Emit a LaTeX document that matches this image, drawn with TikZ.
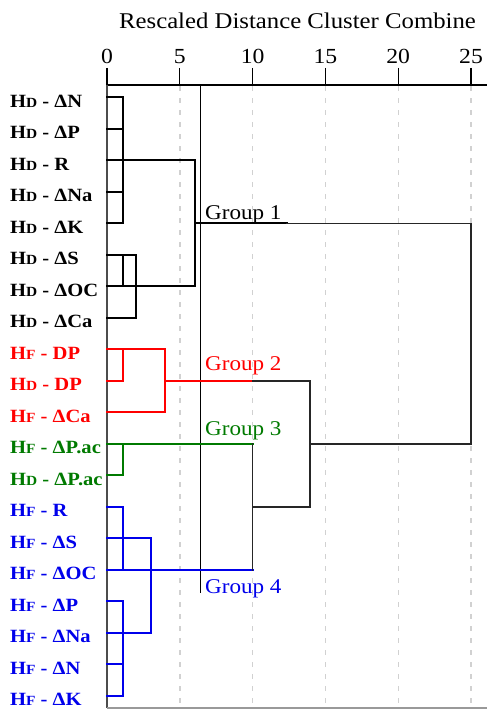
\documentclass[tikz,border=0pt]{standalone}
\usepackage{fontspec}
\setmainfont{Liberation Serif}[FakeStretch=1.1]
\definecolor{gred}{RGB}{255,0,0}
\definecolor{ggreen}{RGB}{0,122,0}
\definecolor{gblue}{RGB}{0,0,235}
\newcommand\labfont{\fontsize{18.7}{20}\selectfont\bfseries}
\newcommand\grpfont{\fontsize{21}{22}\selectfont}
\newcommand\tickfont{\fontsize{21.5}{22}\selectfont}
\newcommand\ttlfont{\fontsize{22.5}{24}\selectfont}
% smaller capital used for the D / F after H
\newcommand\subcap[1]{{\fontsize{14}{14}\selectfont #1}}
\newcommand\HD{H\subcap{D}}
\newcommand\HF{H\subcap{F}}
\begin{document}
\begin{tikzpicture}[x=1pt,y=-1pt,
  dend/.style={line width=2.2pt,line cap=rect},
  joinline/.style={line width=1.5pt,color=black!85,line cap=rect},
  gridline/.style={line width=1.4pt,color=black!18,dash pattern=on 5pt off 7pt},
  lab/.style={anchor=base west,inner sep=0pt,font=\labfont},
  grp/.style={anchor=base west,inner sep=0pt,font=\grpfont},
  ticklab/.style={anchor=base,inner sep=0pt,font=\tickfont}]
\useasboundingbox (0,0) rectangle (487,709);

% x positions of the merge levels
\coordinate (x0) at (107,0);
\coordinate (xa) at (122.7,0);
\coordinate (xb) at (135.7,0);
\coordinate (xf) at (151,0);
\coordinate (xd) at (165,0);
\coordinate (xc) at (195,0);
\coordinate (xt) at (287,0);
\coordinate (xg) at (252.7,0);
\coordinate (xr) at (310,0);
\coordinate (xe) at (471,0);
% one row per case
\foreach \i in {0,...,19} \coordinate (r\i) at (107,{97.3+31.5*\i});

% title and scale
\node[anchor=base,inner sep=0pt,font=\ttlfont] (title) at (297.5,28.3) {Rescaled Distance Cluster Combine};
\foreach \u in {5,10,...,25}
  \draw[gridline] ({107+14.56*\u},86) -- ({107+14.56*\u},707);
\foreach \u in {0,5,...,25}{
  \draw[line width=1.3pt] ({107+14.56*\u},68) -- ({107+14.56*\u},85);
  \node[ticklab] (t\u) at ({107+14.56*\u},63.3) {\u};
}
\draw[line width=1.3pt] (107,85) -- (487,85);
\draw[line width=1.3pt,black!70] (107,85) -- (107,708);
\draw[line width=1.5pt,black!40] (107,708) -- (487,708);

% cut level
\coordinate (cuttop) at (200.7,85);
\coordinate (cutbot) at (200.7,593);
\draw[line width=1pt] (cuttop) -- (cutbot);

% group 1
\draw[dend] (r0) -| (r4-|xa) -- (r4);
\draw[dend] (r1) -- (r1-|xa);
\draw[dend] (r3) -- (r3-|xa);
\draw[dend] (r2) -- (r2-|xc);
\draw[dend] (r5) -| (r7-|xb) -- (r7);
\draw[dend] (r5-|xa) -- (r6-|xa);
\draw[dend] (r6) -- (r6-|xc);
\draw[dend] (r2-|xc) -- (r6-|xc);
\draw[dend] (r4-|xc) -- (r4-|xt);
\draw[joinline] (r4-|xt) -- (r4-|xe);

% group 2
\draw[dend,gred] (r8) -| (r10-|xd) -- (r10);
\draw[dend,gred] (r8-|xa) |- (r9);
\draw[dend,gred] (r9-|xd) -- (r9-|xg);
\draw[joinline] (r9-|xg) -- (r9-|xr);

% group 3
\draw[dend,ggreen] (r11) -- (r11-|xg);
\draw[dend,ggreen] (r11-|xa) |- (r12);

% group 4
\draw[dend,gblue] (r13) -| (r15-|xa);
\draw[dend,gblue] (r14) -- (r14-|xf);
\draw[dend,gblue] (r15) -- (r15-|xg);
\draw[dend,gblue] (r16) -| (r19-|xa) -- (r19);
\draw[dend,gblue] (r17) -- (r17-|xf);
\draw[dend,gblue] (r18) -- (r18-|xa);
\draw[dend,gblue] (r14-|xf) -- (r17-|xf);

% merges between the groups
\draw[joinline] (r11-|xg) -- (r15-|xg);
\draw[joinline] (r13-|xg) -- (r13-|xr);
\draw[joinline] (r9-|xr) -- (r13-|xr);
\draw[joinline] (r11-|xr) -- (r11-|xe);
\draw[joinline] (r4-|xe) -- (r11-|xe);

% case labels
\foreach \i/\t in {0/\HD{} - ΔN,1/\HD{} - ΔP,2/\HD{} - R,3/\HD{} - ΔNa,4/\HD{} - ΔK,
                   5/\HD{} - ΔS,6/\HD{} - ΔOC,7/\HD{} - ΔCa}
  \node[lab] (c\i) at (10,{107.3+31.5*\i}) {\t};
\foreach \i/\t in {8/\HF{} - DP,9/\HD{} - DP,10/\HF{} - ΔCa}
  \node[lab,gred] (c\i) at (10,{107.3+31.5*\i}) {\t};
\foreach \i/\t in {11/\HF{} - ΔP.ac,12/\HD{} - ΔP.ac}
  \node[lab,ggreen] (c\i) at (10,{107.3+31.5*\i}) {\t};
\foreach \i/\t in {13/\HF{} - R,14/\HF{} - ΔS,15/\HF{} - ΔOC,16/\HF{} - ΔP,
                   17/\HF{} - ΔNa,18/\HF{} - ΔN,19/\HF{} - ΔK}
  \node[lab,gblue] (c\i) at (10,{107.3+31.5*\i}) {\t};

% group names
\node[grp] (g1) at (205,219) {Group 1};
\node[grp,gred] (g2) at (205,370.7) {Group 2};
\node[grp,ggreen] (g3) at (205,435) {Group 3};
\node[grp,gblue] (g4) at (205,593) {Group 4};
\end{tikzpicture}
\end{document}
